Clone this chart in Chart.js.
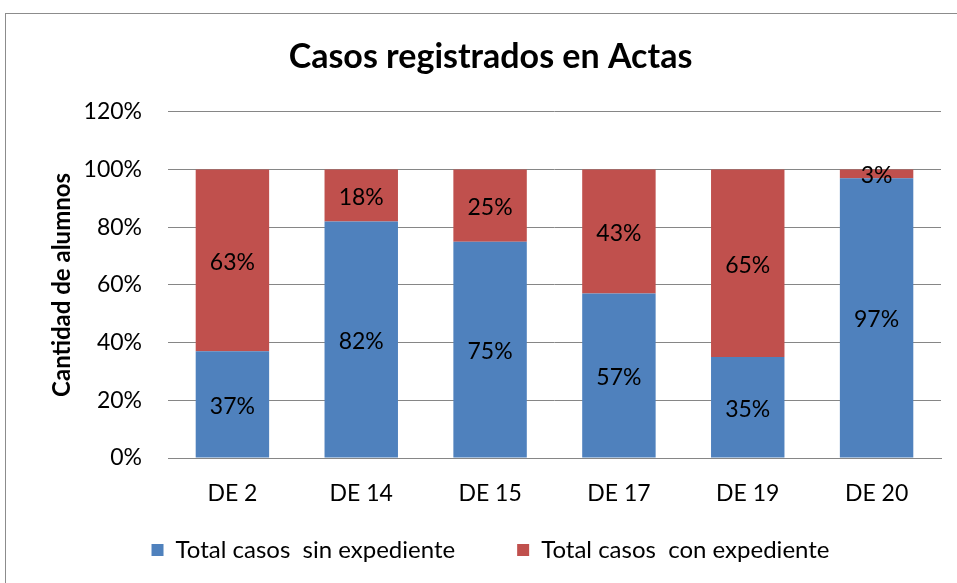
<!DOCTYPE html>
<html>
<head>
<meta charset="utf-8">
<script src="https://cdn.jsdelivr.net/npm/chart.js@4.4.0/dist/chart.umd.min.js"></script>
<style>
  html, body { margin: 0; padding: 0; background: #fff; }
  #wrap { position: relative; width: 957px; height: 583px; overflow: hidden; }
  #frame { position: absolute; left: 5px; top: 13px; width: 1000px; height: 1000px; border: 1px solid #8c8c8c; }
  #chart { position: absolute; left: 0; top: 0; }
</style>
</head>
<body>
<div id="wrap">
  <div id="frame"></div>
  <canvas id="chart" width="957" height="583"></canvas>
</div>
<script>
  // Data
  const categories = ['DE 2', 'DE 14', 'DE 15', 'DE 17', 'DE 19', 'DE 20'];
  const sinExpediente = [37, 82, 75, 57, 35, 97];
  const conExpediente = [63, 18, 25, 43, 65, 3];
  const seriesNames = ['Total casos  sin expediente', 'Total casos  con expediente'];
  const yTicks = [0, 20, 40, 60, 80, 100, 120];

  const FONT = "Lato, 'Open Sans', sans-serif";

  // segment labels centred in each stacked piece
  const segmentLabels = {
    id: 'segmentLabels',
    afterDatasetsDraw(chart){
      const ctx = chart.ctx;
      ctx.save();
      ctx.font = '23px ' + FONT;
      ctx.fillStyle = '#000';
      ctx.textAlign = 'center';
      ctx.textBaseline = 'middle';
      chart.data.datasets.forEach((ds, di) => {
        chart.getDatasetMeta(di).data.forEach((el, i) => {
          const p = el.getProps(['x', 'y', 'base'], true);
          ctx.fillText(ds.data[i] + '%', p.x, (p.y + p.base) / 2 + 2);
        });
      });
      ctx.restore();
    }
  };

  // x axis is kept short so the legend sits right; widen its label clip area afterwards
  const xLabelRoom = {
    id: 'xLabelRoom',
    afterLayout(chart){ chart.scales.x.bottom = chart.scales.x.top + 60; }
  };

  new Chart(document.getElementById('chart'), {
    type: 'bar',
    data: {
      labels: categories,
      datasets: [
        { label: seriesNames[0], data: sinExpediente, backgroundColor: '#4F81BD',
          barPercentage: 0.57, categoryPercentage: 1 },
        { label: seriesNames[1], data: conExpediente, backgroundColor: '#C0504D',
          barPercentage: 0.57, categoryPercentage: 1 }
      ]
    },
    options: {
      responsive: false, animation: false,
      layout: { padding: { left: 40, right: 16, top: 0, bottom: 11 } },
      plugins: {
        title: { display: true, text: 'Casos registrados en Actas', color: '#000',
          font: { family: FONT, size: 34, weight: 'bold' }, padding: { top: 37, bottom: 34 } },
        legend: { position: 'bottom',
          labels: { color: '#000', font: { family: FONT, size: 24 }, boxWidth: 12, boxHeight: 12, padding: 62 } },
        tooltip: { enabled: false }
      },
      scales: {
        x: {
          stacked: true,
          grid: { display: false, drawTicks: false },
          border: { color: '#868686' },
          ticks: { color: '#000', font: { family: FONT, size: 23 }, padding: 22 },
          afterFit(s){ s.height = 18; }
        },
        y: {
          stacked: true, min: 0, max: 120,
          afterBuildTicks(s){ s.ticks = yTicks.map(v => ({ value: v })); },
          grid: { color: '#868686', drawTicks: false },
          border: { display: false },
          ticks: { color: '#000', font: { family: FONT, size: 23 }, padding: 26, callback: v => v + '%' },
          title: { display: true, text: 'Cantidad de alumnos', color: '#000',
            font: { family: FONT, size: 24, weight: 'bold' }, padding: { top: 8, bottom: 0 } },
          afterFit(s){ s.width = 128; }
        }
      }
    },
    plugins: [segmentLabels, xLabelRoom]
  });
</script>
</body>
</html>
